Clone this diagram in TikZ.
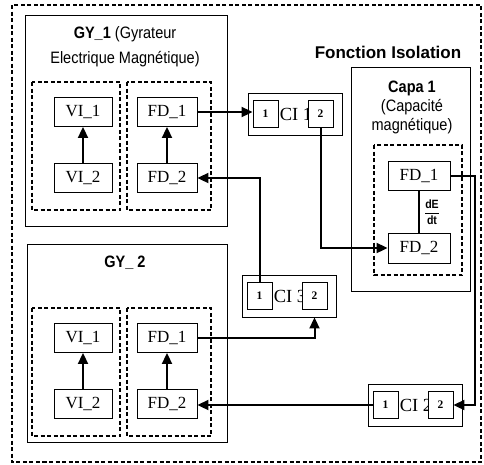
\documentclass[tikz,border=0pt]{standalone}
\usepackage{fontspec}
\setmainfont{Liberation Serif}
\setsansfont{Liberation Sans}
\newfontfamily\narrowsf{Liberation Sans}[FakeStretch=0.88]
\usetikzlibrary{arrows.meta}

\begin{document}
\begin{tikzpicture}[x=1pt,y=-1pt,>={Triangle[length=11pt,width=10pt]},
    font=\fontsize{17}{20}\selectfont,
    blk/.style={draw,line width=0.9pt,minimum width=58pt,minimum height=29pt,inner sep=0pt},
    port/.style={draw,fill=white,line width=0.9pt,minimum width=25pt,minimum height=27pt,inner sep=0pt,font=\fontsize{11.5}{13}\selectfont\bfseries},
    grp/.style={draw,line width=1.1pt,dash pattern=on 4pt off 2.5pt},
    link/.style={->,line width=2pt}]
  \useasboundingbox (0,0) rectangle (484,464);
  \draw[grp] (12,5) rectangle (481,462);
  % the two gyrators
  \draw[line width=0.9pt] (25,15) rectangle (227,226);
  \draw[line width=0.9pt] (27,244) rectangle (227,442);
  \foreach \g/\dy in {1/0,2/226}{
    \begin{scope}[shift={(0,\dy)}]
      \draw[grp] (32,82) rectangle (120,210);
      \draw[grp] (127,82) rectangle (211,210);
      \node[blk] (g\g-vi1) at (83,112) {VI\_1};
      \node[blk] (g\g-vi2) at (83,178) {VI\_2};
      \node[blk,minimum width=60pt] (g\g-fd1) at (167,112) {FD\_1};
      \node[blk,minimum width=60pt] (g\g-fd2) at (167,178) {FD\_2};
      \draw[link] (g\g-vi2) -- (g\g-vi1);
      \draw[link] (g\g-fd2) -- (g\g-fd1);
    \end{scope}
  }
  \node[align=center,font=\narrowsf\fontsize{16.5}{25}\selectfont] (t1) at (125,47) {\textbf{GY\_1} (Gyrateur\\Electrique Magnétique)};
  \node[font=\narrowsf\bfseries\fontsize{16.5}{20}\selectfont] (t2) at (125,263) {GY\_ 2};
  % capacite
  \node[font=\sffamily\bfseries\fontsize{17}{20}\selectfont] (fi) at (388,52) {Fonction Isolation};
  \draw[line width=0.9pt] (351,67) rectangle (470,291);
  \node[align=center,font=\narrowsf\fontsize{16.5}{19}\selectfont] (capa) at (412,107) {\textbf{Capa 1}\\(Capacité\\magnétique)};
  \draw[grp] (374,145) rectangle (462,275);
  \node[blk,minimum width=62pt] (c-fd1) at (419,176) {FD\_1};
  \node[blk,minimum width=62pt,minimum height=30pt] (c-fd2) at (419,248) {FD\_2};
  \draw[line width=1.5pt] (c-fd1) -- (c-fd2);
  \node[font=\narrowsf\bfseries\fontsize{12}{14}\selectfont,inner sep=1pt] (dedt) at (432,212) {$\displaystyle\frac{\mbox{dE}}{\mbox{dt}}$};
  % CI blocks
  \foreach \n/\cx/\cy in {1/295/114,3/289/296,2/415/405}{
    \node[draw,line width=0.9pt,minimum width=94pt,minimum height=42pt] (ci\n) at (\cx,\cy) {};
    \node[font=\fontsize{18.5}{20}\selectfont] (ci\n-l) at ({\cx+1},\cy) {CI \n};
    \node[port] (ci\n-b1) at ({\cx-29.5},\cy) {1};
    \node[port] (ci\n-b2) at ({\cx+25.5},\cy) {2};
  }
  % links
  \draw[link] (g1-fd1.east) -- (g1-fd1.east -| ci1-b1.west);
  \draw[link] (ci1-b2.south) |- (c-fd2.west);
  \draw[link] (ci3-b1.north) |- (g1-fd2.east);
  \draw[link] (g2-fd1.east) -| (ci3-b2.south |- ci3.south);
  \coordinate (turn) at (475,300);
  \draw[link] (c-fd1.east) -| (turn) |- (ci2-b2.east);
  \draw[link] (ci2-b1.west) -- (ci2-b1.west -| g2-fd2.east);
\end{tikzpicture}
\end{document}
